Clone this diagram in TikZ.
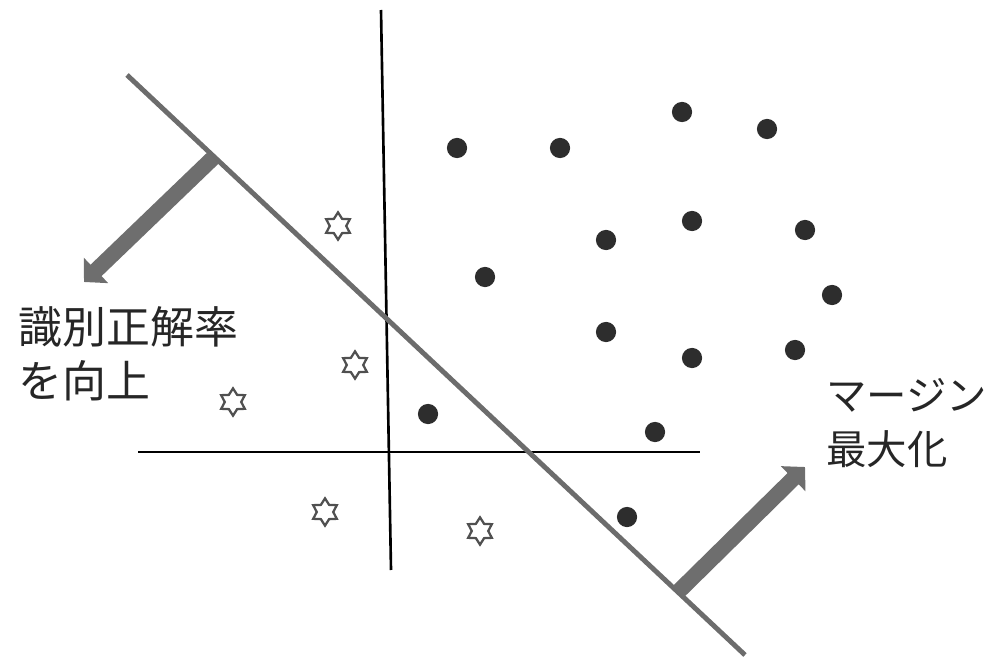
\documentclass[tikz,border=0pt]{standalone}
\usepackage{fontspec}
\newfontfamily\jpfont{Noto Sans CJK JP}
\usepackage{xcolor}
\usepackage{tikz}
\usetikzlibrary{shapes.geometric, arrows.meta, calc}

\definecolor{lineGray}{RGB}{108,108,108}
\definecolor{arrowGray}{RGB}{110,110,110}
\definecolor{dotGray}{RGB}{45,45,45}
\definecolor{starGray}{RGB}{80,80,80}

\tikzset{
  sample/.style={circle, fill=dotGray, inner sep=0pt, minimum size=11.5pt},
  outlier/.style={star, star points=6, star point ratio=1.65, draw=starGray, line width=1.3pt, inner sep=0pt, minimum size=15.5pt},
  boundary/.style={lineGray, line width=2.8pt},
  axis/.style={black, line width=1.5pt},
  push/.style={arrowGray, line width=9pt, -{Triangle[width=19.5pt, length=9.5pt]}},
  label/.style={font=\jpfont\fontsize{25}{31}\selectfont, text=black!85, align=left, inner sep=0pt}
}

\begin{document}
\begin{tikzpicture}[x=0.02cm, y=-0.02cm]
\useasboundingbox (0,0) rectangle (994,662);

% Axes
\coordinate (vtop) at (381,10);
\coordinate (vbot) at (391,570);
\coordinate (hleft) at (138,452);
\coordinate (hright) at (700,452);
\draw[axis] (vtop) -- (vbot);
\draw[axis] (hleft) -- (hright);

% Separating line
\coordinate (btop) at (127,75);
\coordinate (bbot) at (745,655);
\draw[boundary] (btop) -- (bbot);

% Arrows
\coordinate (lbase) at (213,158);
\coordinate (ltip) at (84,282);
\coordinate (rbase) at (678,592);
\coordinate (rtip) at (805,467);
\draw[push] (lbase) -- (ltip);
\draw[push] (rbase) -- (rtip);

% Dots
\node[sample] (d1) at (457,148) {};
\node[sample] (d2) at (560,148) {};
\node[sample] (d3) at (682,112) {};
\node[sample] (d4) at (767,129) {};
\node[sample] (d5) at (606,240) {};
\node[sample] (d6) at (692,221) {};
\node[sample] (d7) at (805,230) {};
\node[sample] (d8) at (485,277) {};
\node[sample] (d9) at (832,295) {};
\node[sample] (d10) at (606,332) {};
\node[sample] (d11) at (692,358) {};
\node[sample] (d12) at (795,350) {};
\node[sample] (d13) at (428,414) {};
\node[sample] (d14) at (655,432) {};
\node[sample] (d15) at (627,517) {};

% Stars
\node[outlier] (s1) at (338,226) {};
\node[outlier] (s2) at (355,365) {};
\node[outlier] (s3) at (233,402) {};
\node[outlier] (s4) at (325,512) {};
\node[outlier] (s5) at (480,531) {};

% Labels
\node[label, anchor=north west] (acc) at (18,306) {識別正解率\\を向上};
\node[label, anchor=north west, font=\jpfont\fontsize{23}{31}\selectfont] (margin) at (826,378) {マージン\\最大化};
\end{tikzpicture}
\end{document}
